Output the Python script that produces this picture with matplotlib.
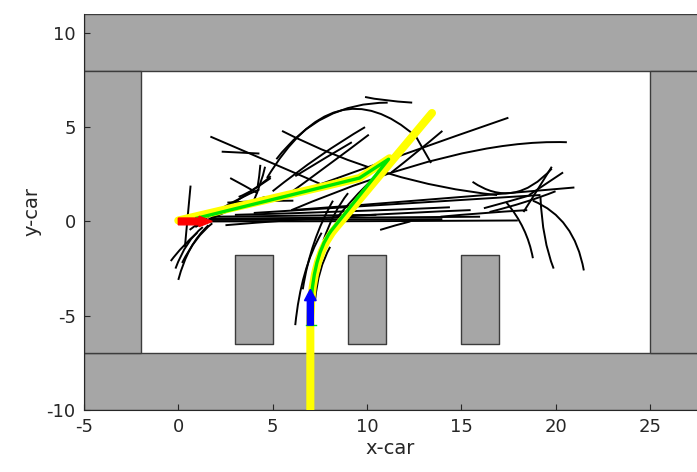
"""Parking planner: RRT tree, planned path and smoothed path in the car frame."""

import matplotlib
matplotlib.use("Agg")
import matplotlib.pyplot as plt
from matplotlib.patches import Rectangle, PathPatch
from matplotlib.path import Path

plt.rcParams["axes.unicode_minus"] = False

# obstacles (x, y, width, height)
walls = [(-5, 8, 35, 3), (-5, -10, 35, 3), (-5, -7, 3, 15), (25, -7, 5, 15)]
parked_cars = [(3, -6.5, 2, 4.7), (9, -6.5, 2, 4.7), (15, -6.5, 2, 4.7)]

# tree branches: start, control, end (quadratic curves)
branches = [
    (0.65, 1.9, 0.5, 0.3, 0.35, -1.35),
    (1.3, -0.3, 0.4, -1.0, -0.15, -2.5),
    (1.6, -0.2, 0.5, -1.2, 0.0, -3.1),
    (1.0, -0.6, 0.2, -1.3, -0.4, -2.1),
    (1.8, -0.1, 0.9, -0.8, 0.2, -2.2),
    (0.6, -0.45, 2.2, 0.8, 4.3, 1.7),
    (0.9, -0.3, 2.5, 0.6, 4.6, 1.3),
    (1.2, -0.2, 2.8, 0.9, 4.9, 2.3),
    (2.6, 1.0, 4.5, 1.1, 6.1, 1.1),
    (1.7, 4.5, 4.5, 3.3, 7.5, 2.0),
    (2.3, 3.7, 3.3, 3.65, 4.3, 3.6),
    (2.75, 2.3, 3.5, 1.9, 4.2, 1.5),
    (3.2, 1.3, 4.0, 1.6, 4.9, 2.4),
    (4.35, 3.0, 4.3, 2.4, 4.2, 1.8),
    (4.0, 1.1, 4.4, 2.0, 4.6, 2.9),
    (4.7, 2.3, 8.3, 8.3, 12.6, 4.5),
    (12.6, 4.5, 13.0, 3.8, 13.4, 3.1),
    (5.2, 3.3, 7.5, 6.3, 11.1, 6.3),
    (9.9, 6.6, 10.8, 6.4, 12.4, 6.3),
    (5.0, 1.6, 7.5, 3.6, 9.9, 5.0),
    (5.5, 1.2, 8.0, 3.0, 10.1, 4.6),
    (6.2, 2.4, 8.0, 3.5, 9.2, 4.2),
    (5.5, 4.8, 11.0, 2.0, 16.9, 1.4),
    (6.5, 1.6, 12.0, 3.6, 17.5, 5.5),
    (6.0, 0.6, 15.0, 4.4, 20.6, 4.2),
    (11.3, 2.6, 12.7, 3.7, 14.0, 4.8),
    (1.6, 0.0, 10.0, 0.0, 18.0, 0.05),
    (1.6, 0.08, 8.0, 0.1, 14.0, 0.12),
    (1.6, 0.15, 9.0, 0.2, 16.0, 0.25),
    (1.8, 0.25, 6.0, 0.3, 10.5, 0.35),
    (3.0, 0.35, 9.0, 0.5, 14.4, 0.75),
    (4.0, 0.45, 12.0, 0.95, 19.2, 1.4),
    (6.0, 0.6, 13.0, 1.1, 21.0, 1.8),
    (2.5, -0.2, 9.0, 0.35, 15.5, 0.6),
    (13.9, 0.25, 16.0, 0.45, 18.5, 0.6),
    (16.2, 0.7, 17.5, 1.05, 18.7, 1.4),
    (10.7, -0.45, 11.5, -0.2, 12.3, 0.0),
    (15.6, 2.1, 17.8, 0.6, 19.8, 2.8),
    (19.8, 2.9, 19.0, 1.6, 18.3, 0.5),
    (20.4, 2.6, 19.5, 2.0, 18.6, 1.4),
    (17.4, 1.0, 18.5, -0.3, 18.8, -1.95),
    (19.2, 1.3, 19.3, -1.0, 19.9, -2.5),
    (18.8, 1.1, 21.0, 0.2, 21.5, -2.6),
    (16.5, 0.5, 18.5, 1.0, 20.0, 1.6),
    (7.6, -0.6, 6.5, -2.5, 6.2, -5.5),
    (8.05, -1.35, 7.4, -2.5, 7.25, -4.2),
    (8.2, 1.1, 7.0, -1.0, 6.6, -3.6),
    (9.0, 1.5, 8.2, 0.5, 7.7, -1.0),
    (8.5, 0.3, 9.8, 1.9, 11.6, 3.4),
]

# planned path (two pieces) and smoothed path
plan_out_x = [7, 7, 7, 8.3, 13.45]
plan_out_y = [-10, -5.5, -1.95, -0.4, 5.75]
plan_back_x = [0, 9.6, 11.2]
plan_back_y = [0.05, 2.3, 3.35]
smooth_x = [7, 7, 8.1, 11.15, 9.6, 0.9]
smooth_y = [-5.5, -2.0, -0.5, 3.3, 2.3, 0.15]

start_pose = (7, -5.5, 0, 1.9)
goal_pose = (0, 0, 1.8, 0)


def main() -> None:
    fig = plt.figure(figsize=(6.97, 4.72), dpi=100)
    ax = fig.add_axes([84 / 697, 62 / 472, 613 / 697, 396 / 472])

    for x, y, w, h in walls:
        ax.add_patch(Rectangle((x, y), w, h, facecolor="#a6a6a6",
                               edgecolor="#3c3c3c", lw=1.0, zorder=1))
    for x, y, w, h in parked_cars:
        ax.add_patch(Rectangle((x, y), w, h, facecolor="#a6a6a6",
                               edgecolor="#3c3c3c", lw=1.0, joinstyle="round",
                               zorder=1))

    for x0, y0, cx, cy, x1, y1 in branches:
        p = Path([(x0, y0), (cx, cy), (x1, y1)],
                 [Path.MOVETO, Path.CURVE3, Path.CURVE3])
        ax.add_patch(PathPatch(p, fill=False, edgecolor="black", lw=1.4, zorder=2))

    out_path = Path(list(zip(plan_out_x, plan_out_y)),
                    [Path.MOVETO, Path.LINETO, Path.CURVE3, Path.CURVE3, Path.LINETO])
    ax.add_patch(PathPatch(out_path, fill=False, edgecolor="#ffff00", lw=5.8,
                           capstyle="round", joinstyle="round", zorder=3))
    ax.plot(plan_back_x, plan_back_y, color="#ffff00", lw=5.8,
            solid_capstyle="round", solid_joinstyle="round", zorder=3)

    sm_path = Path(list(zip(smooth_x, smooth_y)),
                   [Path.MOVETO, Path.CURVE3, Path.CURVE3, Path.LINETO,
                    Path.LINETO, Path.LINETO])
    ax.add_patch(PathPatch(sm_path, fill=False, edgecolor="#00e600", lw=2.4,
                           joinstyle="round", zorder=4))
    ax.plot([start_pose[0] - 0.25, start_pose[0] + 0.3], [start_pose[1]] * 2,
            color="#00e600", lw=1.0, zorder=4)

    ax.arrow(*goal_pose, width=0.36, head_width=0.55, head_length=0.7,
             length_includes_head=True, color="#ff0000", zorder=5)
    ax.arrow(*start_pose, width=0.32, head_width=0.62, head_length=0.6,
             length_includes_head=True, color="#0000ff", zorder=5)

    ax.set_xlim(-5, 27.5)
    ax.set_ylim(-10, 11)
    ax.set_xticks([-5, 0, 5, 10, 15, 20, 25])
    ax.set_yticks([-10, -5, 0, 5, 10])
    ax.tick_params(direction="in", length=4, labelsize=13, colors="#262626",
                   pad=6)
    ax.spines["top"].set_visible(False)
    ax.spines["right"].set_visible(False)
    for s in ("left", "bottom"):
        ax.spines[s].set_color("#262626")
    ax.set_xlabel("x-car", fontsize=14, color="#262626", labelpad=2)
    ax.set_ylabel("y-car", fontsize=14, color="#262626", labelpad=4)

    fig.savefig("out.png", dpi=100)


if __name__ == "__main__":
    main()
